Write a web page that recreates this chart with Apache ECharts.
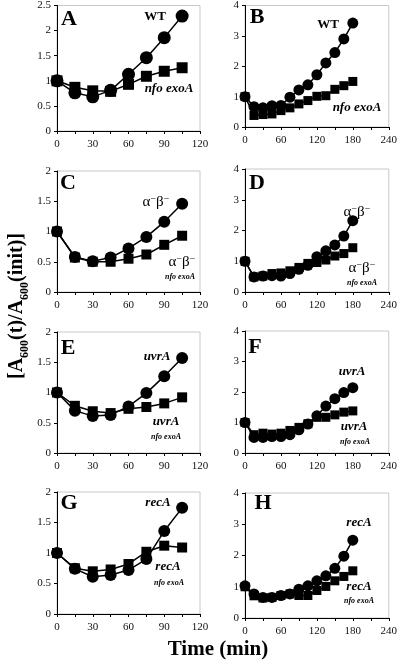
<!DOCTYPE html>
<html><head><meta charset="utf-8">
<script src="https://cdn.jsdelivr.net/npm/echarts@6/dist/echarts.min.js"></script>
<style>html,body{margin:0;padding:0;background:#fff}#c{width:400px;height:670px}</style>
</head><body><div id="c"></div>
<script>
const tShort = [0,15,30,45,60,75,90,105];
const tLong = [0,15,30,45,60,75,90,105,120,135,150,165,180];
const A_wt = [1.0,0.76,0.68,0.81,1.13,1.46,1.86,2.29];
const A_mut = [1.0,0.87,0.80,0.79,0.93,1.09,1.19,1.26];
const B_wt = [1.0,0.67,0.63,0.70,0.71,0.98,1.22,1.39,1.72,2.11,2.45,2.90,3.42];
const B_mut = [1.0,0.38,0.41,0.43,0.54,0.63,0.76,0.87,1.01,1.03,1.24,1.36,1.50];
const C_wt = [1.0,0.58,0.51,0.57,0.72,0.91,1.16,1.46];
const C_mut = [1.0,0.57,0.50,0.50,0.55,0.62,0.78,0.93];
const D_wt = [1.0,0.49,0.52,0.53,0.52,0.60,0.74,0.87,1.15,1.34,1.53,1.82,2.32];
const D_mut = [1.0,0.49,0.52,0.60,0.62,0.69,0.80,0.93,0.96,1.04,1.17,1.25,1.44];
const E_wt = [1.0,0.70,0.61,0.63,0.77,0.99,1.27,1.57];
const E_mut = [1.0,0.78,0.69,0.66,0.73,0.76,0.82,0.92];
const F_wt = [1.0,0.51,0.51,0.54,0.54,0.60,0.76,0.95,1.22,1.54,1.78,1.98,2.14];
const F_mut = [1.0,0.60,0.65,0.62,0.65,0.74,0.84,0.96,1.17,1.17,1.25,1.34,1.38];
const G_wt = [1.0,0.74,0.61,0.64,0.72,0.90,1.36,1.74];
const G_mut = [1.0,0.75,0.70,0.73,0.82,1.02,1.12,1.09];
const H_wt = [1.03,0.77,0.66,0.66,0.72,0.77,0.92,1.03,1.19,1.35,1.59,1.98,2.49];
const H_mut = [1.0,0.71,0.64,0.66,0.72,0.77,0.72,0.72,0.88,1.01,1.19,1.33,1.51];
const panelLetters = ['A','B','C','D','E','F','G','H'];

const SERIF = '"Liberation Serif","DejaVu Serif",serif';
const panels = [
  {g:{left:57,top:5,width:143,height:126}, t:tShort, wt:A_wt, mut:A_mut, xmax:120, xint:30, ymax:2.5, yint:0.5, cs:13, ss:11},
  {g:{left:245,top:4,width:147,height:123}, t:tLong, wt:B_wt, mut:B_mut, xmax:240, xint:60, ymax:4, yint:1, cs:11, ss:9},
  {g:{left:57,top:171,width:143,height:121}, t:tShort, wt:C_wt, mut:C_mut, xmax:120, xint:30, ymax:2, yint:0.5, cs:12, ss:10},
  {g:{left:245,top:169,width:147,height:123}, t:tLong, wt:D_wt, mut:D_mut, xmax:240, xint:60, ymax:4, yint:1, cs:11, ss:9},
  {g:{left:57,top:332,width:143,height:121}, t:tShort, wt:E_wt, mut:E_mut, xmax:120, xint:30, ymax:2, yint:0.5, cs:12, ss:10},
  {g:{left:245,top:331,width:147,height:122}, t:tLong, wt:F_wt, mut:F_mut, xmax:240, xint:60, ymax:4, yint:1, cs:11, ss:9},
  {g:{left:57,top:492,width:143,height:122}, t:tShort, wt:G_wt, mut:G_mut, xmax:120, xint:30, ymax:2, yint:0.5, cs:12, ss:10},
  {g:{left:245,top:493,width:147,height:125}, t:tLong, wt:H_wt, mut:H_mut, xmax:240, xint:60, ymax:4, yint:1, cs:11, ss:9}
];

const grid=[], xAxis=[], yAxis=[], series=[];
panels.forEach((p,i)=>{
  grid.push(Object.assign({show:true, borderColor:'#c8c8c8', borderWidth:1, backgroundColor:'transparent'}, p.g));
  xAxis.push({type:'value', gridIndex:i, min:0, max:p.xmax, interval:p.xint,
    axisLine:{show:true, onZero:false, lineStyle:{color:'#000', width:1}},
    axisTick:{show:true, length:3, lineStyle:{color:'#000'}},
    minorTick:{show:true, splitNumber:2, length:3, lineStyle:{color:'#000'}},
    splitLine:{show:false},
    axisLabel:{fontFamily:SERIF, fontSize:11, color:'#111', margin:8}});
  yAxis.push({type:'value', gridIndex:i, min:0, max:p.ymax, interval:p.yint,
    axisLine:{show:true, lineStyle:{color:'#000', width:1}},
    axisTick:{show:true, length:3, lineStyle:{color:'#000'}},
    splitLine:{show:false},
    axisLabel:{fontFamily:SERIF, fontSize:11, color:'#111', margin:6}});
  series.push({type:'line', xAxisIndex:i, yAxisIndex:i, data:p.t.map((t,k)=>[t,p.mut[k]]),
    symbol:'rect', symbolSize:p.ss, itemStyle:{color:'#000'}, lineStyle:{color:'#000', width:1.5}, animation:false, z:2});
  series.push({type:'line', xAxisIndex:i, yAxisIndex:i, data:p.t.map((t,k)=>[t,p.wt[k]]),
    symbol:'circle', symbolSize:p.cs, itemStyle:{color:'#000'}, lineStyle:{color:'#000', width:1.5}, animation:false, z:3});
});

function txt(x,y,text,font,extra){
  return {type:'text', x:x, y:y, z:100, style:Object.assign({text:text, font:font, fill:'#000', align:'center', verticalAlign:'middle'}, extra||{})};
}
const letterPos = [[69,19],[257,17],[68,183],[257,183],[68,348],[255,347],[69,503],[263,503]];
const graphic = [];
letterPos.forEach((p,i)=>graphic.push(txt(p[0],p[1],panelLetters[i],'bold 22px '+SERIF)));
const bi13 = 'italic bold 13px '+SERIF, bi8 = 'italic bold 8px '+SERIF;
graphic.push(txt(155,17,'WT','bold 13px '+SERIF));
graphic.push(txt(169,89,'nfo exoA',bi13));
graphic.push(txt(328,25,'WT','bold 13px '+SERIF));
graphic.push(txt(357,108,'nfo exoA',bi13));
const ab = {rich:{a:{fontSize:15, fontFamily:SERIF}, s:{fontSize:10, fontFamily:SERIF, verticalAlign:'top', lineHeight:8}}};
function abtxt(x,y){ return {type:'text', x:x, y:y, z:100, style:Object.assign({text:'{a|α}{s|−}{a|β}{s|−}', fill:'#000', align:'center', verticalAlign:'middle'}, ab)}; }
graphic.push(abtxt(156,202));
graphic.push(abtxt(182,262));
graphic.push(txt(180,277,'nfo exoA',bi8));
graphic.push(abtxt(357,212));
graphic.push(abtxt(362,268));
graphic.push(txt(362,283,'nfo exoA',bi8));
graphic.push(txt(157,357,'uvrA',bi13));
graphic.push(txt(166,422,'uvrA',bi13));
graphic.push(txt(166,437,'nfo exoA',bi8));
graphic.push(txt(352,372,'uvrA',bi13));
graphic.push(txt(354,427,'uvrA',bi13));
graphic.push(txt(355,442,'nfo exoA',bi8));
graphic.push(txt(158,503,'recA',bi13));
graphic.push(txt(168,567,'recA',bi13));
graphic.push(txt(169,583,'nfo exoA',bi8));
graphic.push(txt(359,523,'recA',bi13));
graphic.push(txt(359,587,'recA',bi13));
graphic.push(txt(359,601,'nfo exoA',bi8));
graphic.push(txt(218,650,'Time (min)','bold 21px '+SERIF));
graphic.push({type:'text', x:15, y:306, rotation:Math.PI/2, z:100,
  style:{text:'{m|[A}{s|600}{m|(t)/A}{s|600}{m|(init)]}', fill:'#000', align:'center', verticalAlign:'middle',
    rich:{m:{fontSize:20, fontWeight:'bold', fontFamily:SERIF, lineHeight:24, verticalAlign:'bottom'},
          s:{fontSize:12, fontWeight:'bold', fontFamily:SERIF, lineHeight:12, verticalAlign:'bottom', padding:[0,0,-4,0]}}}});

const chart = echarts.init(document.getElementById('c'), null, {renderer:'canvas'});
chart.setOption({animation:false, backgroundColor:'#fff', grid, xAxis, yAxis, series, graphic});
</script></body></html>
